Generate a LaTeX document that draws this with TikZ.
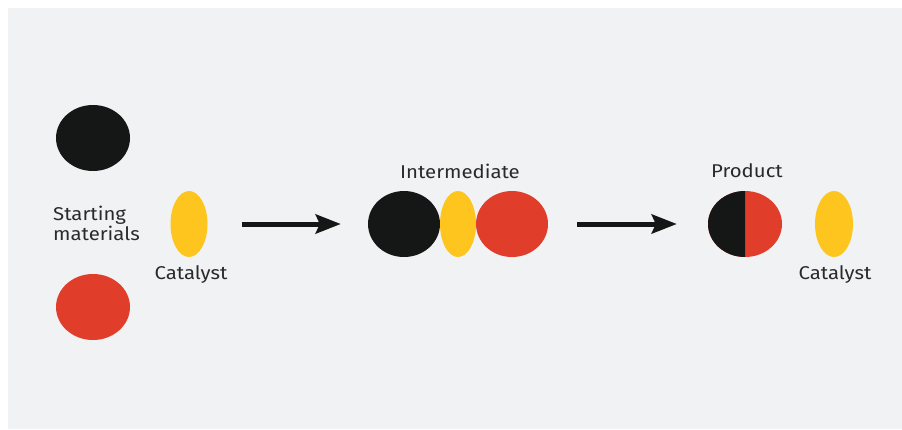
\documentclass[tikz,border=0pt]{standalone}
\usepackage{fontspec}
\setmainfont{Fira Sans}[FakeStretch=1.1]
\usetikzlibrary{arrows.meta,shapes.geometric,calc}
\definecolor{bgc}{HTML}{F1F2F4}
\definecolor{blk}{HTML}{151716}
\definecolor{redc}{HTML}{E03D2B}
\definecolor{yel}{HTML}{FDC51E}
\definecolor{txt}{HTML}{2A2A2A}
\tikzset{
  blob/.style={ellipse, inner sep=0pt, draw=none, minimum height=66pt},
  ball/.style={blob, minimum width=74pt},
  cat/.style={blob, minimum width=37pt, fill=yel},
  lbl/.style={text=txt, font=\fontsize{18.5}{20}\selectfont, align=center, inner sep=0pt},
  arr/.style={draw=blk, line width=5pt, -{Stealth[length=25pt,width=19pt,inset=4pt]}}
}
\begin{document}
\begin{tikzpicture}[x=1pt,y=-1pt]
\useasboundingbox (0,0) rectangle (902,429);
\fill[bgc] (8,8) rectangle (902,429);
% starting materials
\node[ball, fill=blk] (sm1) at (93,138) {};
\node[ball, fill=redc] (sm2) at (93,307) {};
\node[lbl, align=left, anchor=west] (smlbl) at (53,223) {Starting\\materials};
\node[cat] (cat1) at (189,224) {};
\node[lbl] (cat1lbl) at (191,275) {Catalyst};
% intermediate
\node[ball, minimum width=72pt, fill=blk] (int1) at (404,224) {};
\node[cat, minimum width=36pt] (int2) at (458,224) {};
\node[ball, minimum width=72pt, fill=redc] (int3) at (512,224) {};
\node[lbl] (intlbl) at (460,171) {Intermediate};
% product
\node[ball, fill=redc] (prod) at (745,224) {};
\begin{scope}
\clip ($(prod.north)+(0,-1)$) rectangle ($(prod.south)+(-40,1)$);
\fill[blk] (prod.center) ellipse[x radius=37, y radius=33];
\end{scope}
\node[lbl] (prodlbl) at (747,171) {Product};
\node[cat, minimum width=38pt] (cat2) at (834,224) {};
\node[lbl] (cat2lbl) at (835,275) {Catalyst};
% arrows
\draw[arr, shorten <=34pt, shorten >=27pt] (cat1.east) -- (int1.west);
\draw[arr, shorten <=29pt, shorten >=31pt] (int3.east) -- (prod.west);
\end{tikzpicture}
\end{document}
